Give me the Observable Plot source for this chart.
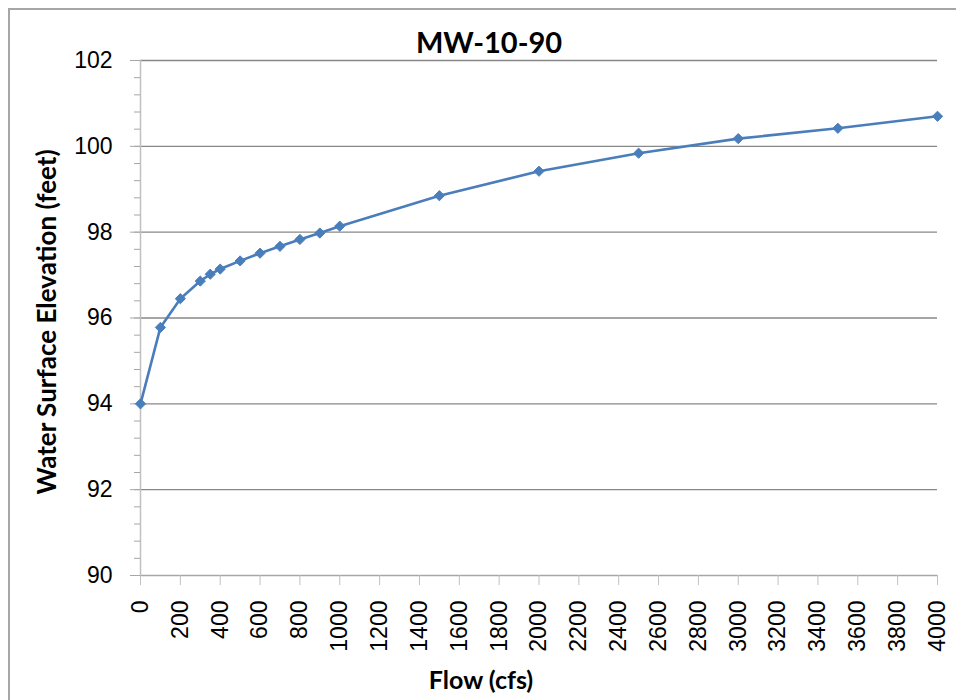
<!DOCTYPE html>
<html>
<head>
<meta charset="utf-8">
<script src="https://cdn.jsdelivr.net/npm/d3@7"></script>
<script src="https://cdn.jsdelivr.net/npm/@observablehq/plot@0.6"></script>
<style>
  html, body { margin: 0; padding: 0; background: #fff; }
  #wrap { position: relative; width: 956px; height: 700px; overflow: hidden; }
  #frame { position: absolute; left: 8px; top: 8px; width: 1000px; height: 800px; border: 2px solid #a6a6a6; box-sizing: border-box; pointer-events: none; }
</style>
</head>
<body>
<div id="wrap"><div id="frame"></div></div>
<script>
const titleText = "MW-10-90";
const xLabel = "Flow (cfs)";
const yLabel = "Water Surface Elevation (feet)";
const flow = [0, 100, 200, 300, 350, 400, 500, 600, 700, 800, 900, 1000, 1500, 2000, 2500, 3000, 3500, 4000];
const elevation = [94.0, 95.78, 96.45, 96.86, 97.02, 97.14, 97.33, 97.51, 97.67, 97.83, 97.98, 98.14, 98.85, 99.42, 99.84, 100.18, 100.42, 100.70];
const xTicks = [0, 200, 400, 600, 800, 1000, 1200, 1400, 1600, 1800, 2000, 2200, 2400, 2600, 2800, 3000, 3200, 3400, 3600, 3800, 4000];
const yTicks = [90, 92, 94, 96, 98, 100, 102];
const yMinorTicks = d3.range(0, 31).map(i => 90 + i * 0.4);

const data = flow.map((f, i) => ({flow: f, elev: elevation[i]}));
const blue = "#4a7ebb";
const tickFont = "Liberation Sans, Arial, sans-serif";
const boldFont = "Lato, Open Sans, sans-serif";

const chart = Plot.plot({
  width: 956,
  height: 700,
  marginLeft: 140,
  marginRight: 19,
  marginTop: 60,
  marginBottom: 125,
  style: {background: "transparent", fontFamily: tickFont, overflow: "visible"},
  x: {domain: [0, 4000]},
  y: {domain: [90, 102]},
  marks: [
    Plot.gridY(yTicks.slice(1), {stroke: "#878787", strokeOpacity: 1, strokeWidth: 1.3}),
    Plot.ruleY([90], {stroke: "#a6a6a6", strokeWidth: 1.5}),
    Plot.ruleX([0], {stroke: "#c0c0c0", strokeWidth: 1.5}),
    Plot.axisY({ticks: yMinorTicks, tickSize: 6, text: null, label: null, stroke: "#a6a6a6", strokeOpacity: 1}),
    Plot.axisY({ticks: yTicks, tickSize: 10, tickPadding: 18, fontSize: 23, fill: "#000", stroke: "#a6a6a6", strokeOpacity: 1, label: null}),
    Plot.axisX({ticks: xTicks, tickFormat: "d", tickSize: 10, tickPadding: 15, tickRotate: -90, fontSize: 23, fill: "#000", stroke: "#c0c0c0", strokeOpacity: 1, label: null}),
    Plot.line(data, {x: "flow", y: "elev", stroke: blue, strokeWidth: 2.6}),
    Plot.dot(data, {x: "flow", y: "elev", symbol: "diamond2", r: 4.6, fill: blue, stroke: blue, strokeWidth: 1}),
    Plot.text([titleText], {frameAnchor: "top", textAnchor: "middle", dx: -50, dy: -8, fontSize: 29, fontWeight: "bold", fontFamily: boldFont, fill: "#000", lineAnchor: "bottom"}),
    Plot.text([xLabel], {frameAnchor: "bottom", textAnchor: "middle", dx: -58, dy: 113, fontSize: 25, fontWeight: "bold", fontFamily: boldFont, fill: "#000", lineAnchor: "bottom"}),
    Plot.text([yLabel], {frameAnchor: "left", textAnchor: "middle", dx: -85, dy: 4, rotate: -90, fontSize: 26, fontWeight: "bold", fontFamily: boldFont, fill: "#000", lineAnchor: "bottom"})
  ]
});
document.getElementById("wrap").insertBefore(chart, document.getElementById("frame"));
</script>
</body>
</html>
